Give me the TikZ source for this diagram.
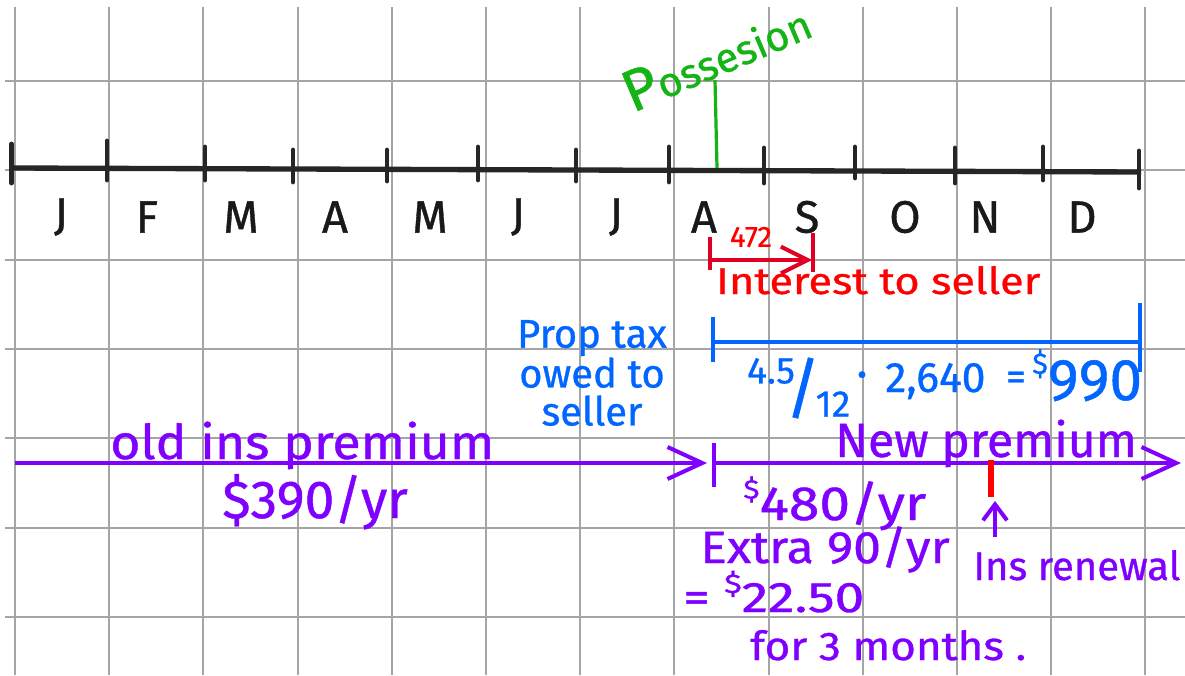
\documentclass[tikz,border=0pt]{standalone}
\usepackage{fontspec}
\setmainfont{Fira Sans}[FakeBold=0.8]
\usetikzlibrary{arrows.meta}
\definecolor{gridgray}{RGB}{165,165,165}
\definecolor{inkgreen}{RGB}{20,180,20}
\definecolor{inkred}{RGB}{255,0,0}
\definecolor{inkdred}{RGB}{225,0,35}
\definecolor{inkblue}{RGB}{0,102,255}
\definecolor{inkpurple}{RGB}{128,0,255}
\newcommand{\fsz}[1]{\fontsize{#1}{#1}\selectfont}
\newcommand{\hs}[2]{\scalebox{#1}[1]{#2}}
\begin{document}
\begin{tikzpicture}[x=0.75pt,y=-0.75pt,
  gridline/.style={gridgray, line width=1.5pt},
  timeline/.style={black!85, line width=4pt},
  tickmark/.style={black!85, line width=3.6pt, line cap=round},
  month/.style={inner sep=0pt, text=black!90, font=\fsz{34}},
  gline/.style={inkgreen, line width=2.4pt},
  rline/.style={inkdred, line width=3pt},
  rtext/.style={inner sep=0pt, text=inkred},
  bline/.style={inkblue, line width=3pt},
  btext/.style={inner sep=0pt, text=inkblue},
  pline/.style={inkpurple, line width=3pt},
  ptext/.style={inner sep=0pt, text=inkpurple, anchor=base west},
  barb/.style={-{Straight Barb[length=26pt,width=24pt]}}
]
\fill[white] (0,0) rectangle (1185,675);
\useasboundingbox (0,0) rectangle (1185,675);
% grid
\foreach \i in {0,...,12} \draw[gridline] ({15+94.2*\i},7) -- ({15+94.2*\i},675);
\foreach \y in {81,170,260,349,438,528,617} \draw[gridline] (5,\y) -- (1185,\y);
% timeline
\coordinate (tl0) at (12,168);
\coordinate (tl1) at (1141,172);
\draw[timeline] (tl0) -- (tl1);
\foreach \x/\yt/\yb in {11.5/144/183, 107/141/180, 205/147/180, 293/150/182, 387/150/181, 478/147/180, 576/150/181, 669/147/182, 764/148/183, 855/147/178, 955/148/183, 1043/147/180, 1139/151/188}
  \draw[tickmark] (\x,\yt) -- (\x,\yb);
\foreach \x/\m/\n in {61/J/mjan, 147/F/mfeb, 241/M/mmar, 335/A/mapr, 430/M/mmay, 518/J/mjun, 616/J/mjul, 704/A/maug, 807/S/msep, 905/O/moct, 985/N/mnov, 1082/D/mdec}
  \node[month] (\n) at (\x,217) {\m};
% possession
\node[inner sep=0pt, text=inkgreen, rotate=23] (poss) at (716,56) {{\fsz{44}P}{\fsz{31}ossesion}};
\coordinate (possTop) at (715,80);
\coordinate (possBot) at (717,168);
\draw[gline] (possTop) -- (possBot);
% interest
\coordinate (iL) at (710,260);
\coordinate (iR) at (812,260);
\draw[rline] (710,237) -- (710,270);
\draw[rline] (813,233) -- (813,272);
\draw[rline, -{Straight Barb[length=20pt,width=20pt]}] (iL) -- (iR);
\node[rtext, font=\fsz{22}] (r472) at (751,237) {472};
\node[rtext, anchor=base west, font=\fsz{28}] (interest) at (716,294) {\hs{1.16}{Interest to seller}};
% property tax
\coordinate (pL) at (713,342);
\coordinate (pR) at (1140,342);
\draw[bline] (713,317) -- (713,362);
\draw[bline] (1140,303) -- (1140,372);
\draw[bline] (pL) -- (pR);
\node[btext, align=center, font=\fontsize{30}{28.5}\selectfont] (proptax) at (592,373) {Prop tax\\owed to\\seller};
\node[btext, font=\fsz{28}] (f45) at (771,371) {4.5};
\node[btext, font=\fsz{50}] (fsl) at (803,388) {/};
\node[btext, font=\fsz{28}] (f12) at (833,404) {12};
\node[btext, font=\fsz{22}] (fdot) at (862,378) {•};
\node[btext, anchor=base west, font=\fsz{32}] (f2640) at (885,392) {2,640};
\node[btext, font=\fsz{30}] (feq) at (1016,381) {=};
\node[btext, anchor=base west, font=\fsz{44}] (f990) at (1032,400) {\raisebox{0.45em}{\fsz{22}\$}990};
% insurance
\coordinate (oS) at (15,463);
\coordinate (oE) at (707,463);
\draw[pline, barb] (oS) -- (oE);
\draw[pline] (714,443) -- (714,487);
\coordinate (nS) at (714,463);
\coordinate (nE) at (1181,463);
\draw[pline, barb] (nS) -- (nE);
\draw[inkred, line width=4.5pt] (991,460) -- (991,497);
\coordinate (ua0) at (995,537);
\coordinate (ua1) at (995,501);
\draw[pline, -{Straight Barb[length=12pt,width=18pt]}] (ua0) -- (ua1);
\node[ptext, font=\fsz{36}] (oldins) at (110,459) {\hs{1.08}{old ins premium}};
\node[ptext, font=\fsz{40}] (old390) at (222,518) {\$390/yr};
\node[ptext, font=\fsz{36}] (newprem) at (835,457) {New premium};
\node[ptext, font=\fsz{36}] (new480) at (743,520) {\hs{1.15}{\raisebox{0.45em}{\fsz{20}\$}480/yr}};
\node[ptext, font=\fsz{34}] (extra) at (700,563) {\hs{1.1}{Extra 90/yr}};
\node[ptext, font=\fsz{32}] (eq2250) at (683,612) {\hs{1.25}{= \raisebox{0.45em}{\fsz{20}\$}22.50}};
\node[ptext, font=\fsz{30}] (for3) at (750,660) {\hs{1.1}{for 3 months .}};
\node[ptext, font=\fsz{30}] (insren) at (973,580) {Ins renewal};
\end{tikzpicture}
\end{document}
